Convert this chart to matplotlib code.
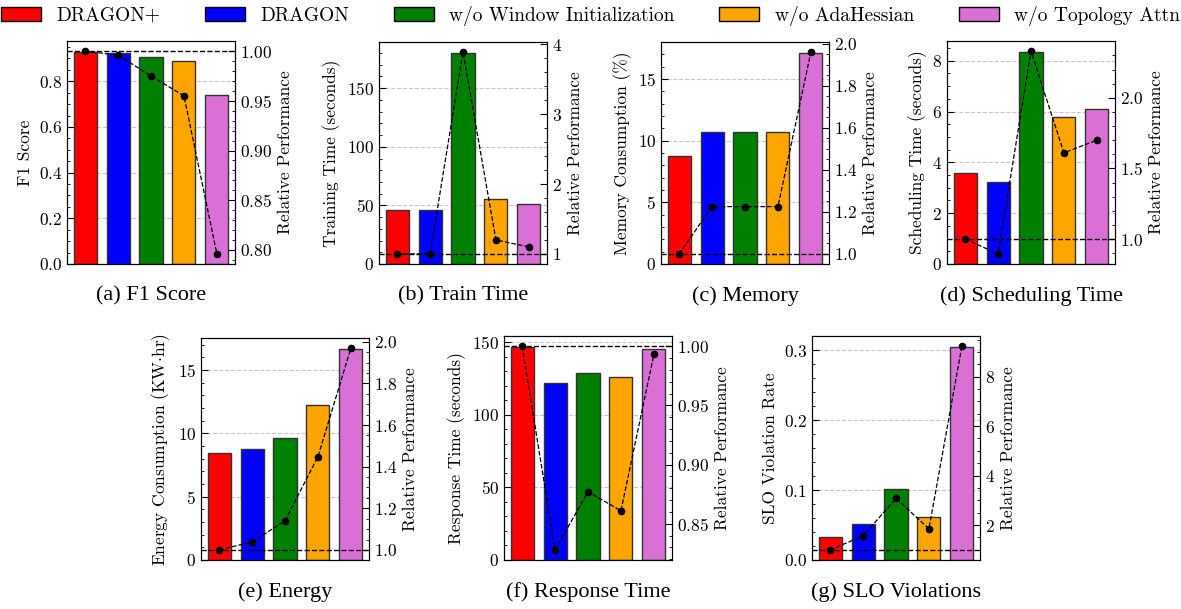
import numpy as np
import matplotlib
matplotlib.use("Agg")
import matplotlib.pyplot as plt
from matplotlib.patches import Patch
from matplotlib.ticker import AutoMinorLocator

plt.rcParams['font.family'] = ['cmr10', 'DejaVu Serif']
plt.rcParams['mathtext.fontset'] = 'cm'
plt.rcParams['axes.formatter.use_mathtext'] = True
plt.rcParams['font.size'] = 12.5

methods = ["DRAGON+", "DRAGON", "w/o Window Initialization", "w/o AdaHessian", "w/o Topology Attn"]
colors = ["red", "blue", "green", "orange", "orchid"]

f1_score = [0.930, 0.926, 0.907, 0.887, 0.740]
f1_rel = [1.0, 0.996, 0.975, 0.955, 0.796]

train_time = [46.3, 46.3, 180.4, 55.4, 51.4]
train_rel = [1.0, 1.0, 3.89, 1.20, 1.10]

memory = [8.72, 10.70, 10.70, 10.70, 17.15]
memory_rel = [1.0, 1.225, 1.225, 1.225, 1.96]

sched_time = [3.59, 3.21, 8.36, 5.78, 6.11]
sched_rel = [1.0, 0.895, 2.33, 1.61, 1.70]

energy = [8.48, 8.80, 9.67, 12.28, 16.70]
energy_rel = [1.0, 1.038, 1.14, 1.448, 1.97]

response = [146.8, 121.6, 128.6, 126.2, 145.4]
response_rel = [1.0, 0.828, 0.877, 0.861, 0.993]

slo = [0.033, 0.051, 0.1015, 0.061, 0.305]
slo_rel = [1.0, 1.56, 3.08, 1.85, 9.23]

W, H = 1181, 609
fig = plt.figure(figsize=(W / 100, H / 100), dpi=100)


def panel(left, top, bottom, vals, rel, ylabel, caption):
    width = 168
    pos = [left / W, 1 - bottom / H, width / W, (bottom - top) / H]
    ax = fig.add_axes(pos)
    x = np.arange(len(vals))
    ax.bar(x, vals, width=0.7, color=colors, edgecolor="#333333", linewidth=1, zorder=2)
    ax.set_xlim(-0.55, 4.55)
    ax.set_xticks([])
    ax.yaxis.set_minor_locator(AutoMinorLocator())
    ax.tick_params(axis="y", which="both", direction="in", right=False)
    ax.tick_params(axis="y", which="major", length=5)
    ax.tick_params(axis="y", which="minor", length=2.5)
    ax.grid(axis="y", which="major", linestyle="--", color="#c8c8c8", linewidth=0.8)
    ax.set_axisbelow(True)
    ax.set_ylabel(ylabel)

    ax2 = ax.twinx()
    ax2.axhline(1.0, color="black", linestyle="--", linewidth=1)
    ax2.plot(x, rel, "k--o", linewidth=0.9, markersize=4.5)
    ax2.yaxis.set_minor_locator(AutoMinorLocator())
    ax2.tick_params(axis="y", which="both", direction="in")
    ax2.tick_params(axis="y", which="major", length=5)
    ax2.tick_params(axis="y", which="minor", length=2.5)
    ax2.set_ylabel("Relative Performance")

    cap_y = bottom + 32
    fig.text((left + width / 2) / W, 1 - cap_y / H, caption, ha="center", va="center",
             family="Liberation Serif", fontsize=16)
    return ax


panel(67, 41, 264, f1_score, f1_rel, "F1 Score", "(a) F1 Score")
panel(379, 42, 264, train_time, train_rel, "Training Time (seconds)", "(b) Train Time")
panel(661, 42, 264, memory, memory_rel, "Memory Consumption (%)", "(c) Memory")
panel(947, 41, 264, sched_time, sched_rel, "Scheduling Time (seconds)", "(d) Scheduling Time")
panel(201, 338, 560, energy, energy_rel, r"Energy Consumption (KW$\cdot$hr)", "(e) Energy")
panel(504, 336, 560, response, response_rel, "Response Time (seconds)", "(f) Response Time")
panel(812, 336, 560, slo, slo_rel, "SLO Violation Rate", "(g) SLO Violations")

handles = [Patch(facecolor=c, edgecolor="black", linewidth=1) for c in colors]
fig.legend(handles, methods, loc="center", bbox_to_anchor=(0.5, 1 - 16 / H), ncol=5,
           frameon=False, fontsize=14, handlelength=2.05, handleheight=0.72,
           handletextpad=0.8, columnspacing=2.3)

fig.savefig("out.png", dpi=100)
